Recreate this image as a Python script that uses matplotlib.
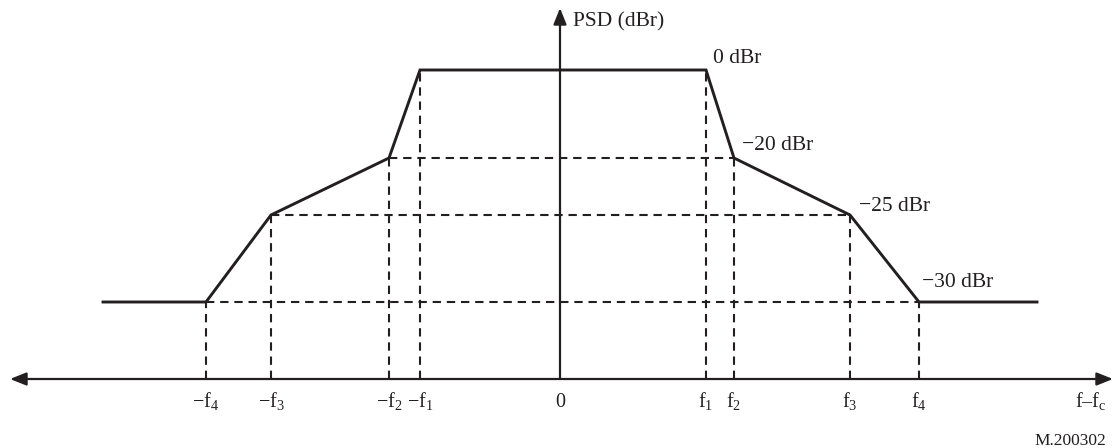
import matplotlib
matplotlib.use("Agg")
import matplotlib.pyplot as plt

plt.rcParams["font.family"] = ["Liberation Serif", "DejaVu Serif"]
plt.rcParams["mathtext.fontset"] = "custom"
plt.rcParams["mathtext.rm"] = "Liberation Serif"
plt.rcParams["mathtext.it"] = "Liberation Serif:italic"

# schematic frequency offsets from fc (picture units), f1..f4
neg_freqs = [-140, -171, -289, -354]
pos_freqs = [146, 174, 290, 359]
neg_labels = ["\u2212f$_\\mathrm{1}$", "\u2212f$_\\mathrm{2}$", "\u2212f$_\\mathrm{3}$", "\u2212f$_\\mathrm{4}$"]
pos_labels = ["f$_\\mathrm{1}$", "f$_\\mathrm{2}$", "f$_\\mathrm{3}$", "f$_\\mathrm{4}$"]

# mask levels and their drawn height above the frequency axis
level_dbr = [0, -20, -25, -30]
level_height = [309, 221, 164, 77]
level_labels = ["0 dBr", "\u221220 dBr", "\u221225 dBr", "\u221230 dBr"]

mask_start = -457
mask_end = 477

# text offsets (points) of the level labels from their corner
label_offsets = [(5, 8), (6, 9), (6.5, 6), (2, 14)]

fig = plt.figure(figsize=(11.17, 4.48), dpi=100)
ax = fig.add_axes([0, 0, 1, 1])
ax.set_xlim(-560, 557)
ax.set_ylim(-69, 379)
ax.set_axis_off()

ink = "#231f20"
dash = dict(color=ink, lw=1.5, ls=(0, (4, 2.8)), zorder=2)

# dashed guides
for i in range(4):
    ax.plot([neg_freqs[i], neg_freqs[i]], [0, level_height[i]], **dash)
    ax.plot([pos_freqs[i], pos_freqs[i]], [0, level_height[i]], **dash)
    if i > 0:
        ax.plot([neg_freqs[i], pos_freqs[i]], [level_height[i]] * 2, **dash)

# axes with arrows
ax.annotate("", xy=(-550, 0), xytext=(553, 0),
            arrowprops=dict(arrowstyle="<|-|>,head_length=0.7,head_width=0.28",
                            color=ink, lw=1.6, shrinkA=0, shrinkB=0,
                            mutation_scale=14), zorder=3)
ax.annotate("", xy=(0, 371), xytext=(0, 0),
            arrowprops=dict(arrowstyle="-|>,head_length=0.7,head_width=0.28",
                            color=ink, lw=1.6, shrinkA=0, shrinkB=0,
                            mutation_scale=14), zorder=3)

# mask outline
xs = [mask_start] + neg_freqs[::-1] + pos_freqs + [mask_end]
ys = [level_height[3]] + level_height[::-1] + level_height + [level_height[3]]
ax.plot(xs, ys, color=ink, lw=2.1, solid_joinstyle="miter", zorder=4)

# level labels
for i in range(4):
    ax.annotate(level_labels[i], xy=(pos_freqs[i], level_height[i]),
                xytext=label_offsets[i], textcoords="offset points",
                fontsize=15.5, color=ink, ha="left", va="center")

# frequency tick labels
base = -28
for f, lab in zip(neg_freqs + pos_freqs, neg_labels + pos_labels):
    ax.text(f, base, lab, fontsize=14.5, color=ink, ha="center", va="baseline")
ax.text(0, base, "0", fontsize=14.5, color=ink, ha="center", va="baseline")
ax.text(546, base, "f\u2013f$_\\mathrm{c}$", fontsize=14.5, color=ink,
        ha="right", va="baseline")

ax.text(13, 357, "PSD (dBr)", fontsize=15.5, color=ink, ha="left", va="center")
ax.text(546, -66, "M.200302", fontsize=12.5, color=ink, ha="right", va="baseline")

fig.savefig("out.png", dpi=100, facecolor="white")
